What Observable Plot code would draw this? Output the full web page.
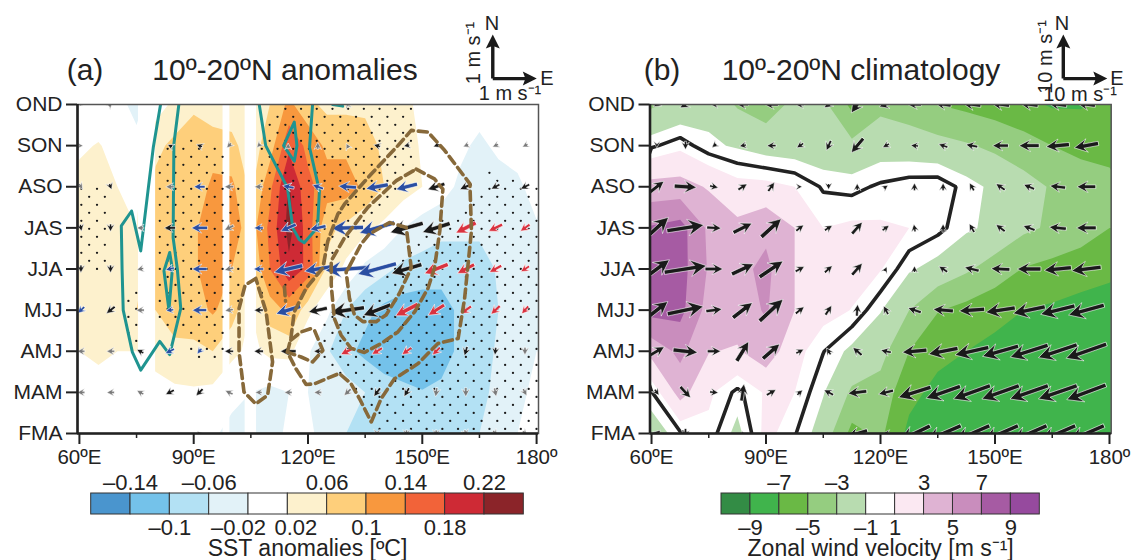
<!DOCTYPE html>
<html><head><meta charset="utf-8">
<script src="https://cdn.jsdelivr.net/npm/d3@7"></script>
<script src="https://cdn.jsdelivr.net/npm/@observablehq/plot@0.6"></script>
<style>
html,body{margin:0;padding:0;background:#fff;}
#page{position:relative;width:1136px;height:560px;overflow:hidden;font-family:"Liberation Sans",Arial,sans-serif;color:#222;}
#page svg{position:absolute;top:0;overflow:visible;background:transparent;}
.t{position:absolute;white-space:nowrap;transform:translate(-50%,-50%);line-height:1;}
</style></head><body><div id="page"></div>
<script>
const seasons = ["OND","SON","ASO","JAS","JJA","MJJ","AMJ","MAM","FMA"];
const lonTicks = [60,90,120,150,180];
const lonMinor = [75,105,135,165];

// SST anomalies, rows OND..FMA, 60E..180 every 5 deg
const sstOND=[0,0,-.01,-.03,0,.03,.05,.025,.04,.01,.06,.11,.07,.05,.05,.05,.05,.03,.01,0,0,0,0,0,0];
const sstSON=[.015,.022,.01,-.01,.05,.07,.09,.09,.07,.04,.08,.17,.13,.09,.09,.08,.05,.04,.015,0,-.01,-.03,-.01,0,0];
const sstASO=[.03,.035,.02,.01,.07,.06,.085,.105,.11,.05,.13,.225,.15,.12,.12,.09,.06,.04,.02,0,-.03,-.04,-.04,-.03,0];
const sstJAS=[.04,.04,.03,.02,.075,.08,.09,.135,.12,.08,.15,.235,.16,.07,.05,.03,.01,-.02,-.04,-.05,-.05,-.05,-.05,-.04,-.025];
const sstJJA=[.03,.03,.05,.05,.08,.085,.09,.135,.1,.06,.14,.21,.17,.05,.01,-.03,-.05,-.07,-.075,-.08,-.08,-.08,-.055,-.04,-.03];
const sstMJJ=[.03,.03,.06,.06,.06,.08,.085,.105,.08,.02,.08,.11,.03,-.01,-.06,-.09,-.11,-.12,-.125,-.12,-.09,-.075,-.06,-.05,-.04];
const sstAMJ=[.02,.025,.02,.02,.03,.05,.05,.06,.03,.01,.03,.03,-.015,-.055,-.09,-.11,-.125,-.13,-.13,-.12,-.09,-.075,-.055,-.04,-.02];
const sstMAM=[.01,.01,.015,.015,.01,.012,.015,.01,-.01,-.02,-.03,-.02,-.02,-.03,-.04,-.06,-.08,-.09,-.098,-.09,-.08,-.07,-.05,-.03,-.01];
const sstFMA=[0,0,0,.01,0,0,0,-.015,-.03,-.03,-.03,-.015,-.01,-.04,-.06,-.07,-.07,-.07,-.07,-.07,-.065,-.06,-.03,-.02,0];
const sstGrid=[sstOND,sstSON,sstASO,sstJAS,sstJJA,sstMJJ,sstAMJ,sstMAM,sstFMA];

// climatological zonal wind, rows OND..FMA, 60E..180 every 7.5 deg
const uOND=[-3.3,-2.5,-1.6,-3.2,-4,-2.5,-2.5,-5.5,-3.5,-4,-5,-5.5,-6,-6.5,-7.2,-7.2,-6.5];
const uSON=[-.2,.6,-.7,-1.2,-1.8,-2,-2.2,-2.5,-1.8,-2,-2.3,-2.8,-3.4,-4.2,-5,-5.5,-5.8];
const uASO=[3.7,3.8,2.8,1.6,1.5,1,-.15,-.35,.2,.6,.7,-.4,-1.4,-2.2,-3.2,-4,-4.3];
const uJAS=[7.2,7.8,4.6,3.5,4.5,3,1,1.3,1.2,1,.35,-.75,-1.4,-2.6,-3.3,-4,-5];
const uJJA=[7.4,7.8,4.8,4.4,5.5,3,2,1.6,1.1,-.8,-1.6,-2.7,-3.9,-5.1,-5.6,-6.1,-6.5];
const uMJJ=[7.7,7.6,4.2,4,5.2,3,1.6,.95,-.9,-3,-4.9,-5.6,-6.3,-7,-7.3,-7.7,-8];
const uAMJ=[3.7,5.5,3.1,2.8,4.2,1.6,.05,-1.4,-2.3,-5,-6.4,-7,-7.6,-8,-8.3,-8.7,-8.9];
const uMAM=[-.1,3.8,1.3,-.3,1.2,1,-.9,-3.3,-3.8,-6.4,-7.6,-8,-8.2,-8.4,-8.6,-8.7,-8.8];
const uFMA=[-2.1,-.2,.6,-1.5,1.5,.1,-1.8,-5.6,-4.6,-7.5,-8,-8.3,-8.4,-8.5,-8.6,-8.7,-8.8];
const uGrid=[uOND,uSON,uASO,uJAS,uJJA,uMJJ,uAMJ,uMAM,uFMA];

// wind anomaly vectors (m/s), 16 columns; class k black b blue r red g grey
const aU=[
[-.08,.08,0,0,0,0,0,0,0,-.03,0,0,0,0,0,0],
[.1,0,0,-.1,-.13,-.1,-.08,0,0,-.05,-.15,-.13,-.13,-.12,-.13,-.12],
[.08,.05,0,-.18,-.25,-.2,-.18,-.25,-.24,-.4,-.5,-.48,-.38,-.27,-.19,-.2],
[.03,0,-.15,-.25,-.36,-.2,-.2,-.34,-.36,-.72,-.79,-.74,-.62,-.45,-.31,-.21],
[0,0,-.15,-.19,-.33,-.2,-.22,-.64,-.6,-1,-.87,-.68,-.53,-.38,-.27,-.19],
[-.15,-.19,-.18,-.17,-.32,-.18,-.2,-.55,-.42,-.76,-.62,-.5,-.36,-.24,-.2,-.15],
[-.17,-.18,-.15,-.2,-.1,-.2,-.21,-.35,-.18,-.3,-.23,-.21,-.17,-.06,-.02,0],
[-.17,-.17,-.15,-.19,-.15,-.17,-.15,-.17,-.17,-.15,-.14,-.11,-.03,0,.04,.08],
[0,0,0,0,-.1,0,0,0,0,0,0,0,0,.05,.1,.1]];
const aV=[
[-.08,.08,0,0,0,0,0,0,0,.08,0,0,0,0,0,0],
[0,0,0,.05,.05,-.1,-.08,.12,.15,.1,.04,-.03,-.05,-.05,-.06,-.06],
[-.12,-.13,0,0,0,0,0,.05,.09,.03,-.09,-.12,-.13,-.12,-.1,-.1],
[-.15,-.17,0,0,0,-.1,0,-.15,-.08,-.02,-.23,-.21,-.2,-.23,-.15,-.15],
[-.17,-.17,-.03,-.05,0,-.05,0,-.15,-.1,-.07,-.24,-.2,-.21,-.2,-.15,-.12],
[-.14,-.15,0,-.02,0,-.03,0,-.17,-.09,-.11,-.24,-.26,-.23,-.17,-.19,-.17],
[0,0,.08,-.1,-.12,0,0,0,0,-.15,-.14,-.15,-.17,-.2,-.17,-.17],
[0,0,.08,-.1,-.15,.08,0,0,0,-.14,-.19,-.19,-.2,-.2,-.19,-.15],
[0,0,0,0,.1,0,0,0,0,0,-.1,-.15,-.15,-.15,-.12,-.1]];
const aClass=["gggggggggggggggg","gggkkgggggkkkggg","gkggbggbbbbbkkkk","kkgkbgbbbbbkkrrr","kkgbbgbbbbbkrrrr","bkgbbgkbkkkrrrrr","ggkbbkkkkrrrrkkg","gggkkgggggkkgggg","gggggggggggggggg"];

// climatological wind vectors (m/s), 16 columns
const bU=[
[-1.5,-2.5,-1.5,-2.5,-3,-2,-2,-2.7,-3,-3,-3.5,-4,-4,-4,-4,-4],
[0,0,-1,-1.5,-2,-1.5,-1,-2.7,-1.5,-1.7,-2,-2.6,-3.5,-4.5,-5.2,-5.4],
[3.2,5,1.9,2,1.4,1,0,0,1,0,0,-1,-2,-2.4,-3.5,-4.2],
[5.3,8.3,3.2,4.2,4.5,1.7,1.7,2.3,1.5,-.3,0,-1.1,-2,-2.6,-3.8,-4.4],
[5.7,9.5,4,4.9,5.3,2,1.7,2.3,.5,0,-1.9,-3.2,-4.2,-5.3,-6.1,-6.6],
[5,8.1,3.6,4.4,5.3,1.9,1.4,.2,-1,-2.9,-4.5,-5.7,-6.6,-7.2,-7.7,-8],
[3.4,5.5,3,2.7,3.8,1.7,-.9,-2,-2.3,-5.5,-6.6,-7.6,-8.1,-8.5,-8.7,-9.1],
[1,2.3,1.9,.6,2.1,1.2,-2.1,-4.2,-3.3,-7.3,-7.7,-8.3,-8.4,-8.6,-8.7,-8.8],
[1.7,0,0,0,0,0,0,-4.5,-1.5,-7,-8,-8,-8,-8,-8,-8]];
const bV=[
[-1,-1.5,0,0,0,0,-1.5,-3.8,-1,0,.5,.5,.5,.5,.5,.5],
[-1,-1.8,-.8,-.3,0,-1,-2.2,-3.2,-.8,.2,.7,.5,0,0,-.5,-1],
[2.5,-.3,-.4,1.3,2,0,-1.3,1.5,.7,1.7,1.7,1.7,1.4,1,.4,0],
[4.8,1.3,-.2,2.1,4.1,1.3,1.1,2.6,1.1,1.7,1.8,1.9,1.5,1,.4,0],
[4.2,1.5,0,2.3,3.6,1.1,1.5,2.6,1,1.4,1.3,.8,.2,0,-.6,-.8],
[3.9,1.7,.5,3.4,4.9,1.5,2.1,2.6,1.9,1,.4,-.4,-1,-1.5,-1.9,-2.2],
[2,-.6,0,4.4,3.3,.9,1.5,1.7,.5,-.5,-1.3,-1.7,-2.3,-2.7,-2.9,-3.2],
[-1.3,-2.5,-.2,3.8,1.2,1.1,1.1,-.5,-.8,-2.3,-2.7,-3,-3,-3,-3,-3.3],
[1.5,-2.2,0,1,0,0,0,-1.3,0,-3.4,-3.5,-3.5,-3.5,-3.5,-3.5,-3.5]];

// land columns left blank in panel a
const landSpans=[[75.5,80],[97.7,99.5],[103.5,106.5]];

// areas stippled for significance (lon, season row)
const stippleWest=[[59.5,1.95],[67,1.95],[67,4.15],[59.5,4.15]];
const stippleWest2=[[71,4.45],[75,4.45],[75,5.85],[71,5.85]];
const stippleCentre=[[80,1],[84,1.05],[90,.8],[98,1.05],[99.5,1.9],[103,1.9],[103,4.8],[99,4.9],[99,6.15],[90,6.15],[87,5.4],[80,5.4]];
const stippleWarm=[[107,1],[112,0],[148,0],[149,1.3],[143,2.1],[135,3],[126,3.9],[117,4.7],[107,4.7]];
const stippleCold=[[167.3,1.55],[180.5,2.05],[180.5,8],[138.3,8],[132.6,7.03],[128.2,6.67],[124.3,6.26],[123.4,5.28],[138.3,4.47],[148.4,3.24],[164.6,2.26]];

// teal contours
const teal1=[[81.3,0],[79.4,1.04],[78,2.1],[76.1,3.56],[73.7,2.59],[71,2.95],[71.2,4],[71.5,5],[73.9,6.02],[76.1,6.46],[81.1,5.76],[83.7,6.08],[86.6,4.96],[85.7,4],[84.6,3.24],[84.8,.96],[86.1,0]];
const teal2=[[83.7,3.6],[82.2,4.05],[83.5,5],[84.4,4],[83.7,3.6]];
const teal3=[[107.2,0],[108.9,1],[114.6,2.02],[116,3],[117.7,3.28],[119,3.36],[122.5,2.99],[123,2.1],[120.4,1.04],[121.2,0]];
const teal4=[[116.4,.43],[113.6,1],[116.4,1.38],[117.1,1],[116.4,.43]];
const teal5=[[126.5,0],[129.1,.04]];

// brown dashed contours
const brown1=[[106.3,4.23],[103.5,4.39],[101.9,4.96],[101.9,6.02],[103.2,6.99],[106.3,7.28],[109.4,7.07],[110.7,6.26],[109,5.04],[106.3,4.23]];
const brown2=[[125.2,3.32],[123.9,3.97],[119.5,4.47],[116.4,5.04],[115.5,5.69],[114.6,6.02],[116.8,6.42],[119.5,6.81],[121.7,6.79],[128.2,6.54],[131.3,6.79],[133.5,7.15],[136.6,7.72],[139.2,7.15],[142.7,6.67],[148.9,6.3],[154.1,5.81],[159.4,5.69],[161.1,4.72],[162,3.9],[162.9,3.07],[162.5,1.93],[155.9,1.12],[151.5,.67],[147.1,.63],[143.6,1],[136.6,1.69],[129.6,2.42],[127.8,2.67],[125.2,3.32]];
const brown3=[[148.4,1.57],[153.2,1.81],[155.4,2.06],[154.6,3.07],[153.2,3.97],[151.5,4.47],[148,5.04],[143.6,5.53],[139.2,5.81],[134.8,6.03],[131.3,5.93],[128.7,5.61],[126.9,5.2],[126.1,4.39],[126.1,3.8],[129.6,3.24],[135.7,2.5],[143.2,1.85],[148.4,1.57]];
const brown4=[[130.9,3.93],[133.9,3.4],[136.1,3.15],[141.4,2.87],[145.8,2.99],[147.1,3.97],[144,4.59],[140.5,5.12],[137.9,5.28],[134.4,5.28],[132.2,5.12],[130.9,4.72],[130,4.07],[130.9,3.93]];
const brown5=[[115.5,5.73],[118.2,5.53],[120.8,5.45],[121.7,5.49],[123.9,5.98],[121.2,6.26],[118.2,6.14],[114.6,6.02]];
const brown6=[[113.8,4.43],[114.1,4.78]];

// colour keys
const sstBreaks=[-.14,-.1,-.06,-.02,.02,.06,.1,.14,.18,.22];
const sstColors=["#4a95ce","#74c2ea","#b3e1f4","#e2f2f8","#ffffff","#fdf1cd","#fecf7b","#f8983e","#f26339","#ce2a35","#8b2429"];
const windBreaks=[-9,-7,-5,-3,-1,1,3,5,7,9];
const windColors=["#338c45","#40b44c","#6ab945","#95cd80","#b8dcb0","#ffffff","#fbe8f2","#dfb3d3","#c98dbd","#a65ba3","#964a9e"];
const sstUpper=[-.14,-.06,.06,.14,.22], sstLower=[-.1,.1,.18];
const windUpper=[-7,-3,3,7], windLower=[-9,-5,-1,1,5,9];

const FONT='"Liberation Sans",Arial,sans-serif';
const page=document.getElementById("page");
const deg=180/Math.PI;
const lonLabel=d=>d===180?"180º":d+"ºE";

const arrow={draw(c,l){
  if(l<.5) return;
  const hl=Math.min(16,5+.33*l), hw=hl*.52, sw=Math.min(2.1,.5+l*.07), neck=hl*.72;
  c.moveTo(-sw,0);c.lineTo(-sw,-(l-neck));c.lineTo(-hw,-(l-hl));c.lineTo(0,-l);c.lineTo(hw,-(l-hl));c.lineTo(sw,-(l-neck));c.lineTo(sw,0);c.closePath();
}};
const keyArrow={draw(c,l){
  c.moveTo(-1.7,0);c.lineTo(-1.7,-(l-12));c.lineTo(-7,-(l-14));c.lineTo(0,-l);c.lineTo(7,-(l-14));c.lineTo(1.7,-(l-12));c.lineTo(1.7,0);c.closePath();
}};
function vectors(U,V,lon0,step,cls){
  const out=[];
  U.forEach((row,r)=>row.forEach((u,k)=>out.push({lon:lon0+k*step,r,u,v:V[r][k],c:cls?cls[r][k]:"k"})));
  return out.filter(d=>d.u||d.v);
}
const vecMark=(data,fill,stroke)=>Plot.vector(data,{x:"lon",y:"r",length:d=>Math.hypot(d.u,d.v),rotate:d=>Math.atan2(d.u,d.v)*deg,shape:arrow,anchor:"middle",fill,stroke,strokeWidth:.55,clip:true});
const lines=(sets)=>sets.flatMap((s,i)=>s.map(p=>({lon:p[0],r:p[1],id:i})));
function frameMarks(xMin){return [
  Plot.frame({stroke:"#555",strokeWidth:1.5}),
  Plot.ruleX([xMin],{stroke:"#222",strokeWidth:2.6}),
  Plot.ruleY([8],{stroke:"#222",strokeWidth:2.6}),
  Plot.axisX(lonTicks,{anchor:"bottom",tickSize:11,tickPadding:5,tickFormat:lonLabel,label:null,strokeWidth:2,fontSize:20.5}),
  Plot.axisX(lonMinor,{anchor:"bottom",tickSize:5,tickFormat:()=>"",label:null,strokeWidth:1.5}),
  Plot.axisY(d3.range(9),{anchor:"left",tickSize:11,tickPadding:4,tickFormat:i=>seasons[i],label:null,strokeWidth:2,fontSize:21})
];}
const style={fontFamily:FONT,fontSize:"20px",color:"#222",background:"transparent"};

// PANEL A
const latticeRows=d3.range(0,42).map(m=>({m,r:.105+.1946*m}));
const lattice=latticeRows.flatMap(({m,r})=>d3.range(0,32).map(n=>[60.5+(m%2?2.06:0)+4.12*n,r]));
const regions=[stippleWest,stippleWest2,stippleCentre,stippleWarm,stippleCold];
const stipple=lattice.filter(p=>regions.some(g=>d3.polygonContains(g,p))&&!landSpans.some(s=>p[0]>s[0]&&p[0]<s[1]));
const aVec=vectors(aU,aV,60.4,7.77,aClass);
const plotA=Plot.plot({
  width:568,height:470,marginTop:104,marginBottom:37,marginLeft:77,marginRight:30,style,
  x:{domain:[59.5,180.5]},y:{domain:[0,8],reverse:true},
  color:{type:"threshold",domain:sstBreaks,range:sstColors},
  length:{domain:[0,1],range:[0,44]},
  marks:[
    Plot.contour(sstGrid.flat(),{width:25,height:9,x1:57.5,x2:182.5,y1:-.5,y2:8.5,fill:Plot.identity,thresholds:[-1,...sstBreaks],clip:true,stroke:"none"}),
    Plot.rect(landSpans,{x1:d=>d[0],x2:d=>d[1],y1:()=>0,y2:()=>8,fill:"#fff"}),
    Plot.dot(stipple,{x:d=>d[0],y:d=>d[1],r:1.15,fill:"#1a1a1a",stroke:"none"}),
    Plot.line(lines([teal1,teal2,teal3,teal4,teal5]),{x:"lon",y:"r",z:"id",stroke:"#1f9490",strokeWidth:3,curve:"linear",clip:true}),
    vecMark(aVec.filter(d=>d.c==="g"),"#7a7a7a","#fff"),
    vecMark(aVec.filter(d=>d.c==="k"),"#1a1a1a","#fff"),
    vecMark(aVec.filter(d=>d.c==="b"),"#2a4ea2","#fff"),
    vecMark(aVec.filter(d=>d.c==="r"),"#d9323f","#fff"),
    Plot.line(lines([brown1,brown2,brown3,brown4,brown5,brown6]),{x:"lon",y:"r",z:"id",stroke:"#87693a",strokeWidth:3.6,strokeDasharray:"9,5",curve:"linear",clip:true}),
    ...frameMarks(59.5),
    Plot.vector([{a:0,x:168.5,y:-.63},{a:90,x:168.5,y:-.63}],{x:"x",y:"y",rotate:"a",length:()=>1,shape:keyArrow,anchor:"start",fill:"#1a1a1a",stroke:"none"})
  ]});
plotA.style.left="0px";page.appendChild(plotA);

// PANEL B
const bVec=vectors(bU,bV,61.4,7.5);
const plotB=Plot.plot({
  width:568,height:470,marginTop:104,marginBottom:37,marginLeft:81.5,marginRight:25.3,style,
  x:{domain:[59.6,180.45]},y:{domain:[0,8],reverse:true},
  color:{type:"threshold",domain:windBreaks,range:windColors},
  length:{domain:[0,10],range:[0,44]},
  marks:[
    Plot.contour(uGrid.flat(),{width:17,height:9,x1:56.25,x2:183.75,y1:-.5,y2:8.5,fill:Plot.identity,thresholds:[-30,...windBreaks],clip:true,stroke:"none"}),
    Plot.contour(uGrid.flat(),{width:17,height:9,x1:56.25,x2:183.75,y1:-.5,y2:8.5,value:Plot.identity,thresholds:[0],fill:"none",stroke:"#222",strokeWidth:3.6,clip:true}),
    vecMark(bVec,"#1a1a1a","#fff"),
    ...frameMarks(59.6),
    Plot.vector([{a:0,x:167.9,y:-.63},{a:90,x:167.9,y:-.63}],{x:"x",y:"y",rotate:"a",length:()=>10,shape:keyArrow,anchor:"start",fill:"#1a1a1a",stroke:"none"})
  ]});
plotB.style.left="568px";page.appendChild(plotB);

// COLOUR KEYS
function key(left,range,dom,breaks,colors,upper,lower,fmt,title,titleX,extra){
  const edges=[dom[0],...breaks,dom[1]];
  const p=Plot.plot({
    width:568,height:95,margin:0,style,
    x:{domain:dom,range,axis:null},y:{domain:[0,1],range:[49,28],axis:null},color:{type:"identity"},
    marks:[
      Plot.rect(d3.range(colors.length),{x1:i=>edges[i],x2:i=>edges[i+1],y1:()=>0,y2:()=>1,fill:i=>colors[i],stroke:"#333",strokeWidth:1}),
      Plot.text(upper,{x:d=>d,y:()=>1,dy:-11,text:fmt,fontSize:22,fill:"#222"}),
      Plot.text(lower,{x:d=>d,y:()=>0,dy:13.5,text:fmt,fontSize:22,fill:"#222"}),
      ...extra,
      Plot.text([title],{x:()=>titleX,y:()=>0,dy:34,text:d=>d,fontSize:23,fill:"#222"})
    ]});
  p.style.left=left+"px";p.style.top="465px";page.appendChild(p);
}
const fmtA=d=>(d<0?"–":"")+Math.abs(d).toString();
const near={y:()=>0,dy:13.5,text:fmtA,fontSize:22,fill:"#222"};
key(0,[90.7,523.3],[-.18,.26],sstBreaks,sstColors,sstUpper,sstLower,fmtA,"SST anomalies [ºC]",.04,[
  Plot.text([-.02],{x:d=>d,dx:-10,...near}),
  Plot.text([.02],{x:d=>d,dx:8,...near})
]);
key(568,[153,471.3],[-11,11],windBreaks,windColors,windUpper,windLower,fmtA,"Zonal wind velocity [m s⁻¹]",0,[]);

// TITLES AND KEY LABELS
function label(text,x,y,size,rot){
  const e=document.createElement("div");e.className="t";e.textContent=text;
  e.style.left=x+"px";e.style.top=y+"px";e.style.fontSize=size+"px";
  if(rot) e.style.transform="translate(-50%,-50%) rotate(-90deg)";
  page.appendChild(e);
}
label("(a)",85,70,30);label("10º-20ºN anomalies",285,70,30);
label("(b)",662,70,30);label("10º-20ºN climatology",861,70,30);
label("N",492,23,20);label("E",547,78,20);label("1 m s⁻¹",510,93,20);label("1 m s⁻¹",473,53,20,true);
label("N",1062,23,20);label("E",1117,78,20);label("10 m s⁻¹",1080,94,20);label("10 m s⁻¹",1045,57,20,true);
</script></body></html>
